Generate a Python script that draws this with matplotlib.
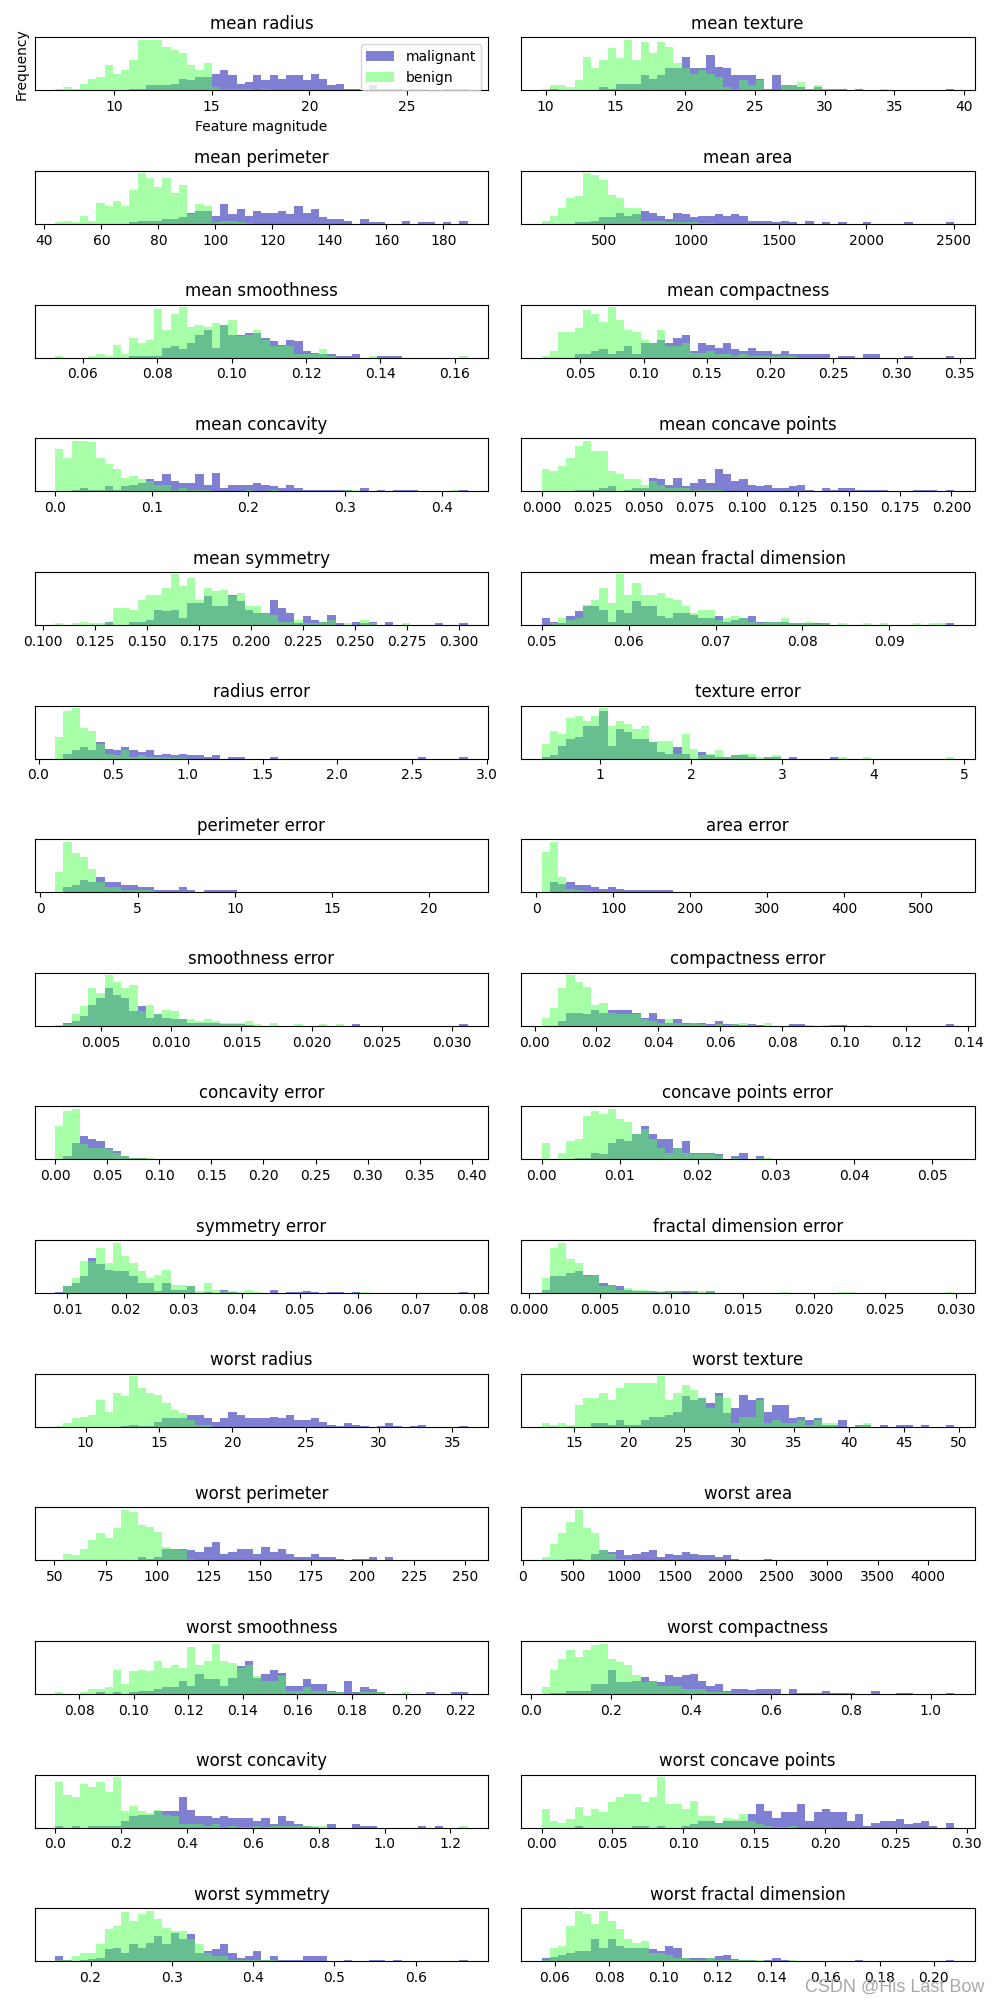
import numpy as np
import matplotlib
matplotlib.use("Agg")
import matplotlib.pyplot as plt

# breast cancer features: per-bin heights (50 bins each)
feature_names = [
    "mean radius", "mean texture", "mean perimeter", "mean area",
    "mean smoothness", "mean compactness", "mean concavity",
    "mean concave points", "mean symmetry", "mean fractal dimension",
    "radius error", "texture error", "perimeter error", "area error",
    "smoothness error", "compactness error", "concavity error",
    "concave points error", "symmetry error", "fractal dimension error",
    "worst radius", "worst texture", "worst perimeter", "worst area",
    "worst smoothness", "worst compactness", "worst concavity",
    "worst concave points", "worst symmetry", "worst fractal dimension",
]

feature_min = [6.981, 9.71, 43.79, 143.5, 0.05263, 0.01938, 0.0, 0.0, 0.106, 0.04996,
               0.1115, 0.3602, 0.757, 6.802, 0.001713, 0.002252, 0.0, 0.0, 0.007882, 0.0008948,
               7.93, 12.02, 50.41, 185.2, 0.07117, 0.02729, 0.0, 0.0, 0.1565, 0.05504]
feature_max = [28.11, 39.28, 188.5, 2501.0, 0.1634, 0.3454, 0.4268, 0.2012, 0.304, 0.09744,
               2.873, 4.885, 21.98, 542.2, 0.03113, 0.1354, 0.396, 0.05279, 0.07895, 0.02984,
               36.04, 49.54, 251.2, 4254.0, 0.2226, 1.058, 1.252, 0.291, 0.6638, 0.2075]

malignant = [
    # mean radius
    [0, 0, 0, 0, 0, 0, 0, 0, 0, 1, 1, 3, 3, 3, 4, 7, 6, 8, 8, 10,
     12, 9, 4, 5, 9, 6, 9, 7, 9, 9, 6, 10, 7, 3, 4, 1, 1, 0, 3, 1,
     1, 1, 0, 1, 1, 0, 0, 1, 1, 1],
    # mean texture
    [0, 1, 0, 0, 0, 0, 0, 2, 1, 4, 4, 4, 9, 7, 9, 13, 13, 20, 13, 13,
     21, 14, 13, 9, 9, 9, 7, 1, 9, 3, 3, 2, 1, 2, 1, 1, 1, 0, 1, 0,
     0, 0, 0, 0, 0, 0, 0, 0, 0, 1],
    # mean perimeter
    [0, 0, 0, 0, 0, 0, 0, 0, 0, 1, 2, 2, 2, 3, 3, 4, 7, 8, 8, 5,
     12, 6, 9, 5, 8, 7, 7, 8, 6, 11, 7, 9, 4, 3, 3, 2, 0, 3, 1, 1,
     0, 0, 2, 0, 1, 1, 0, 1, 0, 2],
    # mean area
    [0, 0, 0, 0, 1, 1, 2, 4, 4, 7, 5, 6, 8, 7, 5, 3, 7, 6, 4, 5,
     5, 6, 5, 6, 5, 2, 2, 2, 1, 2, 1, 0, 2, 0, 1, 0, 1, 0, 0, 1,
     0, 0, 0, 0, 1, 0, 0, 0, 0, 1],
    # mean smoothness
    [0, 0, 0, 0, 0, 0, 0, 0, 0, 1, 1, 1, 1, 6, 7, 5, 9, 14, 17, 6,
     20, 14, 14, 15, 15, 12, 10, 8, 11, 10, 4, 3, 2, 2, 1, 1, 2, 0, 0, 1,
     1, 1, 0, 0, 0, 0, 0, 0, 0, 0],
    # mean compactness
    [0, 0, 0, 0, 2, 2, 4, 5, 2, 4, 7, 2, 9, 9, 11, 9, 12, 14, 4, 9,
     8, 6, 9, 5, 4, 6, 4, 4, 2, 4, 2, 2, 2, 2, 2, 0, 1, 1, 0, 2,
     2, 0, 0, 0, 1, 0, 0, 0, 0, 1],
    # mean concavity
    [0, 0, 1, 2, 1, 1, 3, 1, 3, 4, 5, 7, 6, 10, 6, 5, 5, 10, 4, 11,
     2, 4, 4, 4, 5, 4, 3, 2, 4, 2, 1, 1, 1, 1, 1, 1, 0, 2, 0, 1,
     0, 1, 1, 1, 0, 0, 0, 0, 0, 1],
    # mean concave points
    [0, 0, 0, 0, 0.5, 1, 1, 2, 3, 0, 1, 2, 2, 8, 7, 4, 8, 3, 5, 7,
     5, 13, 10, 6, 7, 4, 3, 4, 2, 2, 3, 4, 1, 0, 2, 1, 2, 2, 1, 1,
     1, 1, 0, 0, 0, 1, 1, 1, 0, 1],
    # mean symmetry
    [0, 0, 0, 0, 0, 0, 2, 0, 0, 2, 2, 3, 9, 8, 9, 4, 13, 13, 17, 11,
     11, 18, 14, 9, 7, 7, 15, 10, 7, 1, 5, 3, 2, 6, 1, 0, 2, 1, 2, 0,
     2, 0, 0, 0, 0, 0, 1, 0, 0, 1],
    # mean fractal dimension
    [4, 2, 1, 5, 8, 11, 11, 9, 2, 9, 7, 14, 11, 11, 5, 4, 7, 7, 6, 4,
     4, 5, 2, 3, 4, 5, 2, 2, 2, 2, 1, 1, 1, 1, 1, 0, 0, 0, 0, 0,
     0, 0, 0, 0, 0, 0, 0, 0, 0, 1],
    # radius error
    [0, 3, 5, 7, 5, 10, 6, 5, 7, 5, 4, 5, 2, 3, 2, 3, 2, 2, 1, 2,
     0, 1, 1, 0, 0, 0, 1, 0, 0, 0, 0, 0, 0, 0, 0, 0, 0, 0, 0, 0,
     0, 0, 0, 0, 1, 0, 0, 0, 0, 1],
    # texture error
    [1, 2, 8, 12, 13, 20, 20, 29, 8, 18, 16, 12, 12, 10, 4, 3, 7, 3, 0, 4,
     2, 1, 1, 2, 2, 1, 0, 1, 1, 0, 1, 0, 0, 0, 0, 1, 0, 0, 0, 0,
     0, 0, 0, 0, 0, 0, 0, 0, 0, 0],
    # perimeter error
    [0, 3, 4, 7, 6, 9, 6, 6, 4, 4, 3, 3, 1, 1, 1, 3, 1, 0, 1, 1,
     1, 1, 0, 0, 0, 0, 0, 0, 0, 0, 0, 0, 0, 0, 0, 0, 0, 0, 0, 0,
     0, 0, 0, 0, 0, 0, 0, 0, 0, 0.3],
    # area error
    [0, 6, 5, 6, 4, 4, 3, 2, 3, 2, 1, 1, 1, 1, 1, 1, 0, 0, 0, 0,
     0, 0, 0, 0, 0, 0, 0, 0, 0, 0, 0, 0, 0, 0, 0, 0, 0, 0, 0, 0,
     0, 0, 0, 0, 0, 0, 0, 0, 0, 0.3],
    # smoothness error
    [0, 2, 3, 6, 13, 17, 23, 19, 17, 9, 12, 5, 7, 5, 4, 4, 2, 2, 2, 2,
     1, 1, 1, 0.5, 0, 0, 0, 0, 0, 0, 0, 0, 0, 0, 0, 0, 1, 0, 0, 0,
     0, 0, 0, 0, 0, 0, 0, 0, 0, 1],
    # compactness error
    [0, 0, 3, 8, 8, 7, 10, 8, 10, 10, 10, 8, 5, 8, 4, 2, 4, 2, 2, 2,
     1, 3, 1, 1, 0.5, 1, 0.5, 0, 0, 0, 1, 1, 0, 0, 0, 0.5, 0.5, 0, 0, 0,
     0, 0, 0, 0, 0, 0, 0, 0, 0, 1],
    # concavity error
    [0, 2, 10, 14, 12, 11, 7, 5, 2, 1, 1, 0.5, 0.5, 0.5, 0, 0, 0, 0, 0, 0,
     0, 0, 0, 0, 0, 0, 0, 0, 0, 0, 0, 0, 0, 0, 0, 0, 0, 0, 0, 0,
     0, 0, 0, 0, 0, 0, 0, 0, 0, 0],
    # concave points error
    [0, 0, 0, 0.5, 1, 1, 4, 3, 10, 12, 11, 15, 20, 15, 12, 12, 7, 11, 4, 4,
     4, 3, 0.5, 2, 4, 0.5, 2, 0.5, 0.5, 0, 0, 0, 0.5, 0, 0, 0, 0, 0.5, 0.5, 0,
     0, 0, 0, 0, 0, 0, 0, 0, 0, 0],
    # symmetry error
    [0.5, 4, 6, 10, 21, 17, 14, 13, 13, 10, 6, 6, 1, 6, 2, 2, 4, 0, 0.5, 0,
     2, 0.5, 0, 0, 0, 0, 2, 0, 0.5, 0.5, 1, 0.5, 0, 0.5, 0.5, 0, 0.5, 0, 0, 0,
     0, 0, 0, 0, 0, 0, 0, 0, 0, 0.5],
    # fractal dimension error
    [2, 10, 10, 12, 13, 11, 11, 6, 5, 4, 2, 1, 1, 1, 0.5, 1, 1, 1, 1, 0,
     1, 0, 0, 0, 0, 0, 0, 0, 0, 0, 0, 0, 0, 0, 0, 0, 0, 0, 0, 0,
     0, 0, 0, 0, 0, 0, 0, 0, 0, 0],
    # worst radius
    [0, 0, 0, 0, 0, 0, 0, 0, 0.5, 1, 0.5, 0.5, 3, 5, 5, 5, 7, 7, 5, 3,
     5, 9, 7, 5, 5, 5, 6, 5, 7, 4, 4, 5, 3, 1, 0.5, 2, 1, 0.5, 0, 0.5,
     2, 0.5, 0, 0.5, 1, 0, 0, 0, 0, 0.5],
    # worst texture
    [0, 0, 0, 0, 0, 0, 2, 2, 1, 4, 1, 1, 4, 6, 6, 7, 9, 18, 16, 17,
     14, 20, 8, 11, 19, 16, 17, 9, 13, 13, 5, 6, 4, 5, 1, 1, 4, 0, 1, 1,
     0, 1, 0, 1, 1, 0, 1, 0, 0, 1],
    # worst perimeter
    [0, 0, 0, 0, 0, 0, 0, 0, 0.5, 0.5, 2, 1, 2, 7, 7, 7, 6, 5, 8, 11,
     4, 5, 7, 7, 4, 8, 5, 7, 4, 2, 2, 4, 2, 2, 1, 0.5, 1, 1, 2, 0,
     2, 0, 0.5, 0, 0.5, 0, 0, 0, 0, 0.5],
    # worst area
    [0, 0, 0, 1, 1, 0, 4, 6, 5, 6, 3, 4, 5, 6, 2, 4, 3, 5, 4, 3,
     3, 2, 3, 1, 0.5, 0.5, 0, 1, 0.5, 0.5, 0, 0, 0, 0.5, 0, 0, 0, 0.5, 0, 0,
     0, 0, 0, 0, 0, 0, 0, 0, 0, 0.3],
    # worst smoothness
    [0, 0, 0, 0, 0, 1, 0, 1, 0, 1, 2, 2, 3, 4, 4, 8, 5, 12, 9, 9,
     5, 10, 17, 20, 10, 12, 15, 13, 5, 5, 9, 6, 6, 2, 1, 8, 1, 4, 3, 1,
     0, 0, 0, 0, 0, 1, 0, 0, 1, 1],
    # worst compactness
    [0, 0.5, 0.5, 2, 2, 2, 6, 6, 14, 7, 7, 8, 10, 8, 7, 11, 10, 11, 12, 8,
     5, 6, 2, 3, 3, 2.5, 3, 3, 3, 0, 3, 0.5, 0.5, 0.5, 2, 0.5, 0.5, 0.5, 0, 0,
     2, 0, 0, 0.5, 0.5, 0, 0, 0, 0, 0.5],
    # worst concavity
    [1, 0, 1, 0, 1, 1, 1, 1, 4, 7, 8, 8, 10, 10, 10, 19, 11, 7, 7, 6,
     7, 6, 6, 6, 4, 6, 2, 7, 4, 2, 1, 0.5, 0, 2, 0, 0, 2, 1, 1, 0,
     0, 0, 0, 0, 1, 0, 1, 0, 0, 0],
    # worst concave points
    [0, 0, 0, 0, 1, 0, 0, 0, 0, 0, 0, 1, 1, 0, 1, 0, 0, 1, 2, 4,
     4, 3, 4, 4, 4, 8, 14, 10, 6, 9, 9, 14, 4, 9, 11, 9, 9, 4, 8, 1,
     3, 4, 4, 5, 2, 3, 4, 1, 0, 3],
    # worst symmetry
    [3, 0.5, 0, 1, 1.5, 2, 7, 8, 5, 10, 8, 11, 15, 10, 17, 13, 16, 5, 6, 7,
     10, 5, 2, 3, 6, 1, 3, 1, 0.5, 0.5, 3, 3, 3, 0, 0, 0.5, 0, 0, 0.5, 0.5,
     0, 0.5, 0, 0, 0, 0, 0, 0, 0, 0.5],
    # worst fractal dimension
    [2, 2.5, 4, 5, 6, 6, 13, 8, 13, 9, 8, 8, 8, 7, 6, 9, 8, 2, 2, 2,
     2, 3, 4, 1.5, 1, 1, 0, 1, 2, 0.5, 0, 0, 0, 0, 0, 0, 0, 0, 0.5, 0,
     0, 0, 0, 0, 0, 0, 0, 0, 0, 0.5],
]

benign = [
    # mean radius
    [1, 2, 1, 4, 7, 8, 15, 10, 12, 18, 30, 30, 30, 26, 24, 22, 15, 12, 16, 2,
     1, 1, 1, 1, 0, 1, 0, 0, 0, 0, 0, 0, 0, 0, 0, 0, 0, 0, 0, 0,
     0, 0, 0, 0, 0, 0, 0, 0, 0, 0],
    # mean texture
    [1, 3, 3, 2, 6, 20, 13, 18, 25, 19, 30, 18, 29, 22, 29, 26, 16, 13, 10, 12,
     10, 8, 2, 1, 6, 3, 6, 0, 0, 3, 3, 5, 1, 3, 1, 1, 0, 0, 0, 0,
     0, 1, 0, 0, 0, 0, 0, 0, 0, 0],
    # mean perimeter
    [1, 2, 1, 5, 2, 13, 11, 14, 11, 21, 31, 28, 23, 28, 19, 24, 6, 12, 11, 1,
     2, 2, 1, 0.5, 0, 0, 0, 0, 0, 0, 0, 0, 0, 0, 0, 0, 0, 0, 0, 0,
     0, 0, 0, 0, 0, 0, 0, 0, 0, 0],
    # mean area
    [2, 5, 10, 16, 17, 31, 30, 27, 18, 16, 10, 10, 2, 2, 2, 1, 1, 1, 1, 0.5,
     0.5, 0, 0, 0, 0, 0, 0, 0, 0, 0, 0, 0, 0, 0, 0, 0, 0, 0, 0, 0,
     0, 0, 0, 0, 0, 0, 0, 0, 0, 0],
    # mean smoothness
    [1, 0, 0, 0, 1, 2, 1, 8, 2, 12, 9, 11, 30, 17, 27, 31, 19, 20, 19, 21,
     20, 23, 13, 14, 17, 11, 7, 7, 7, 2, 2, 2, 5, 1, 0, 0, 0, 0, 1, 0,
     0, 0, 0, 0, 0, 0, 0, 0, 0, 1],
    # mean compactness
    [1, 4, 16, 16, 18, 29, 27, 22, 31, 23, 17, 16, 11, 9, 17, 7, 7, 9, 3, 3,
     4, 2, 2, 1, 2, 1, 1, 1, 1, 1, 1, 0, 0, 0, 0, 0, 0, 0, 0, 0,
     0, 0, 0, 0, 0, 0, 0, 0, 0, 0],
    # mean concavity
    [25, 20, 30, 30, 29, 20, 16, 13, 8, 9, 7, 6, 4, 4, 1, 2, 1, 1, 1, 0,
     0, 0, 0, 1, 0, 0, 1, 0, 0, 0, 0, 0, 0, 0, 0, 1, 1, 0, 0, 0,
     0, 0, 0, 0, 0, 0, 0, 0, 1, 0],
    # mean concave points
    [13, 12, 15, 20, 27, 30, 24, 24, 12, 10, 7, 7, 4, 6, 4, 2, 2, 2, 1, 1,
     1, 1, 0, 0, 0, 0, 0, 0, 0, 0, 0, 0, 0, 0, 0, 0, 0, 0, 0, 0,
     0, 0, 0, 0, 0, 0, 0, 0, 0, 0],
    # mean symmetry
    [1, 0, 1, 2, 1, 1, 2, 10, 10, 9, 15, 18, 18, 22, 30, 23, 28, 15, 22, 20,
     21, 17, 19, 11, 11, 7, 6, 2, 2, 3, 1, 1, 2, 3, 0, 1, 0, 3, 1, 0,
     0, 0, 1, 0, 0, 0, 0, 0, 0, 0],
    # mean fractal dimension
    [0, 1, 4, 3, 4, 12, 15, 22, 13, 30, 18, 25, 18, 18, 19, 16, 15, 11, 7, 9,
     9, 3, 4, 5, 4, 2, 1, 2, 2, 4, 1, 1, 2, 0.5, 1, 0, 1, 0, 0, 1,
     0, 1, 0, 0, 0, 1, 0, 1, 1, 0],
    # radius error
    [13, 29, 31, 19, 17, 9, 3, 2, 5, 1, 2, 1, 1, 1, 0.5, 0.5, 0, 0, 0, 0,
     0, 0, 0, 0, 0, 0, 0, 0, 0, 0, 0, 0, 0, 0, 0, 0, 0, 0, 0, 0,
     0, 0, 0, 0, 0, 0, 0, 0, 0, 0],
    # texture error
    [9, 17, 15, 25, 26, 23, 26, 31, 20, 23, 21, 18, 20, 10, 11, 11, 3, 15, 6, 2,
     3, 5, 1, 2, 3, 3, 1, 1, 2, 0, 0, 0, 0, 0, 0, 0, 1, 0, 0, 1,
     0, 0, 0, 0, 0, 0, 0, 0, 0, 1],
    # perimeter error
    [12, 30, 23, 21, 14, 6, 3, 3, 1, 1, 1, 1, 0, 0, 0, 0, 0, 0, 0, 0,
     0, 0, 0, 0, 0, 0, 0, 0, 0, 0, 0, 0, 0, 0, 0, 0, 0, 0, 0, 0,
     0, 0, 0, 0, 0, 0, 0, 0, 0, 0],
    # area error
    [24, 30, 9, 2, 1, 0.5, 0, 0, 0, 0, 0, 0, 0, 0, 0, 0, 0, 0, 0, 0,
     0, 0, 0, 0, 0, 0, 0, 0, 0, 0, 0, 0, 0, 0, 0, 0, 0, 0, 0, 0,
     0, 0, 0, 0, 0, 0, 0, 0, 0, 0],
    # smoothness error
    [0.5, 1, 7, 12, 23, 20, 31, 27, 23, 25, 9, 13, 7, 10, 9, 4, 4, 3, 4, 3,
     2, 2, 2, 3, 1, 0, 2, 0, 0, 1, 0, 0, 1, 0, 1, 0, 0, 0, 0, 0,
     0, 0, 0, 0, 0, 0, 0, 0, 0, 0],
    # compactness error
    [5, 11, 23, 31, 27, 24, 13, 14, 8, 7, 7, 7, 4, 3, 2, 4, 2, 1, 2, 1,
     0.5, 1, 0.5, 1, 2, 0.5, 0, 2, 0, 0, 0, 0, 0.5, 0, 0.5, 0.5, 0, 0, 0, 0.5,
     0, 0, 0, 0, 0, 0, 0, 0, 0, 0],
    # concavity error
    [20, 29, 30, 9, 7, 7, 6, 4, 2, 1, 1, 1, 0.5, 0, 0, 0, 0, 0, 0, 0,
     0, 0, 0, 0, 0, 0, 0, 0, 0, 0, 0, 0, 0, 0, 0, 0, 0, 0, 0, 0,
     0, 0, 0, 0, 0, 0, 0, 0, 0, 0.3],
    # concave points error
    [10, 0.5, 4, 11, 12, 26, 29, 27, 30, 24, 22, 15, 18, 12, 7, 4, 7, 4, 3, 3,
     3, 2, 0.5, 1, 0.5, 0.5, 1, 1, 0, 0, 0, 0.5, 0, 0.5, 0, 0, 0, 0, 0, 0,
     0, 0, 0, 0, 0, 0, 0, 0, 0, 0.5],
    # symmetry error
    [0, 4, 9, 19, 19, 27, 18, 30, 22, 18, 13, 9, 11, 14, 5, 5, 4, 1, 6, 2,
     1, 1, 0.5, 2, 0.5, 0, 0, 0, 0, 0, 0, 0, 0, 0, 0, 0, 0, 0.5, 0, 0,
     0, 0, 0, 0, 0, 0, 0, 0, 0, 0],
    # fractal dimension error
    [9, 27, 30, 20, 18, 10, 11, 4, 5, 2, 3, 2, 2, 1, 1, 1, 1, 0, 1, 1,
     1, 0, 0, 0, 0, 0, 0, 0, 0, 0.5, 0, 0, 0, 0, 0, 0, 0.5, 0.5, 0, 0,
     0, 0, 0, 0, 0, 0, 0, 0, 0, 0.5],
    # worst radius
    [0.5, 2, 5, 6, 7, 16, 9, 20, 18, 30, 23, 20, 19, 14, 10, 8, 4, 1, 1, 0,
     0, 0, 0, 0, 0, 0, 0, 0, 0, 0, 0, 0, 0, 0, 0, 0, 0, 0, 0, 0,
     0, 0, 0, 0, 0, 0, 0, 0, 0, 0],
    # worst texture
    [2, 1, 2, 1, 13, 17, 17, 20, 16, 23, 26, 26, 26, 26, 30, 16, 20, 25, 22, 17,
     11, 18, 17, 2, 6, 6, 16, 2, 4, 2, 2, 4, 1, 4, 2, 2, 0, 0, 1, 2,
     0, 0, 0, 0, 0, 0, 0, 0, 0, 0],
    # worst perimeter
    [0.5, 4, 3, 7, 12, 16, 13, 19, 30, 29, 21, 20, 17, 8, 7, 6, 1, 0.5, 0.5, 0.5,
     0, 0, 0, 0, 0, 0, 0, 0, 0, 0, 0, 0, 0, 0, 0, 0, 0, 0, 0, 0,
     0, 0, 0, 0, 0, 0, 0, 0, 0, 0],
    # worst area
    [2, 10, 16, 23, 30, 19, 16, 6, 4, 1, 1, 0, 0, 0, 0, 0, 0, 0, 0, 0,
     0, 0, 0, 0, 0, 0, 0, 0, 0, 0, 0, 0, 0, 0, 0, 0, 0, 0, 0, 0,
     0, 0, 0, 0, 0, 0, 0, 0, 0, 0],
    # worst smoothness
    [1, 0, 0, 1, 3, 3, 4, 15, 6, 14, 15, 14, 20, 16, 18, 16, 29, 18, 20, 31,
     20, 19, 16, 18, 11, 8, 8, 11, 2, 2, 4, 2, 2, 1, 1, 0, 0, 1, 1, 1,
     0, 0, 1, 0, 0, 0, 0, 0, 0, 0],
    # worst compactness
    [4, 14, 21, 26, 22, 26, 29, 30, 21, 19, 17, 11, 7, 8, 5, 5, 5, 3, 3, 3,
     1, 1, 1, 0.5, 0.5, 0.5, 0, 0, 0, 0, 0, 0, 0, 0, 0, 0, 0, 0, 0, 0,
     0, 0, 0, 0, 0, 0, 0, 0, 0, 0],
    # worst concavity
    [28, 20, 19, 27, 25, 28, 22, 31, 10, 13, 10, 9, 11, 8, 7, 2, 2, 2, 1, 2,
     0.5, 1, 0.5, 0.5, 1, 0.5, 1, 1, 1, 1, 1, 1, 1, 0, 0, 0, 0, 0, 0, 0,
     0, 0, 0, 0, 0, 0, 0, 0, 0, 1],
    # worst concave points
    [11, 4, 3, 5, 12, 7, 11, 9, 15, 18, 20, 20, 15, 18, 30, 14, 14, 11, 16, 7,
     7, 3, 6, 5, 8, 4, 2, 1, 0.5, 0.5, 1, 0, 0, 0, 0, 0, 0, 0, 0, 0,
     0, 0, 0, 0, 0, 0, 0, 0, 0, 0],
    # worst symmetry
    [1, 1, 3, 5, 5, 10, 19, 21, 29, 24, 28, 30, 25, 20, 18, 18, 13, 10, 5, 3,
     3, 1, 1, 1, 1, 1, 1, 0, 0, 0, 0, 0, 0, 0, 0, 0, 0, 0, 0, 0,
     0, 0, 0, 0, 0, 0, 0, 0, 0, 0],
    # worst fractal dimension
    [1, 8, 9, 21, 30, 28, 22, 30, 24, 19, 13, 11, 12, 5, 5, 4, 2, 2, 1, 1,
     2, 1, 1, 1, 0.5, 0.5, 0.5, 0, 0, 0, 0.5, 0, 0, 0, 0, 0, 0, 0, 0, 0,
     0, 0, 0, 0, 0, 0, 0, 0, 0, 0],
]

fig, axes = plt.subplots(15, 2, figsize=(10, 20))
ax = axes.ravel()

for i in range(30):
    bins = np.linspace(feature_min[i], feature_max[i], 51)
    centers = (bins[:-1] + bins[1:]) / 2
    ax[i].hist(centers, bins=bins, weights=malignant[i], color="#0000aa", alpha=.5)
    ax[i].hist(centers, bins=bins, weights=benign[i], color="#50ff50", alpha=.5)
    ax[i].set_title(feature_names[i])
    ax[i].set_yticks(())

ax[0].set_xlabel("Feature magnitude")
ax[0].set_ylabel("Frequency")
ax[0].legend(["malignant", "benign"], loc="upper right")
fig.tight_layout()

# watermark in the bottom right corner (sits over the last tick labels, as in the source)
fig.text(0.984, 0.004, "CSDN @His Last Bow", ha="right", va="baseline",
         fontsize=13, family=["Liberation Sans", "DejaVu Sans"], color="#a8a8a8")

fig.savefig("out.png", dpi=100)
